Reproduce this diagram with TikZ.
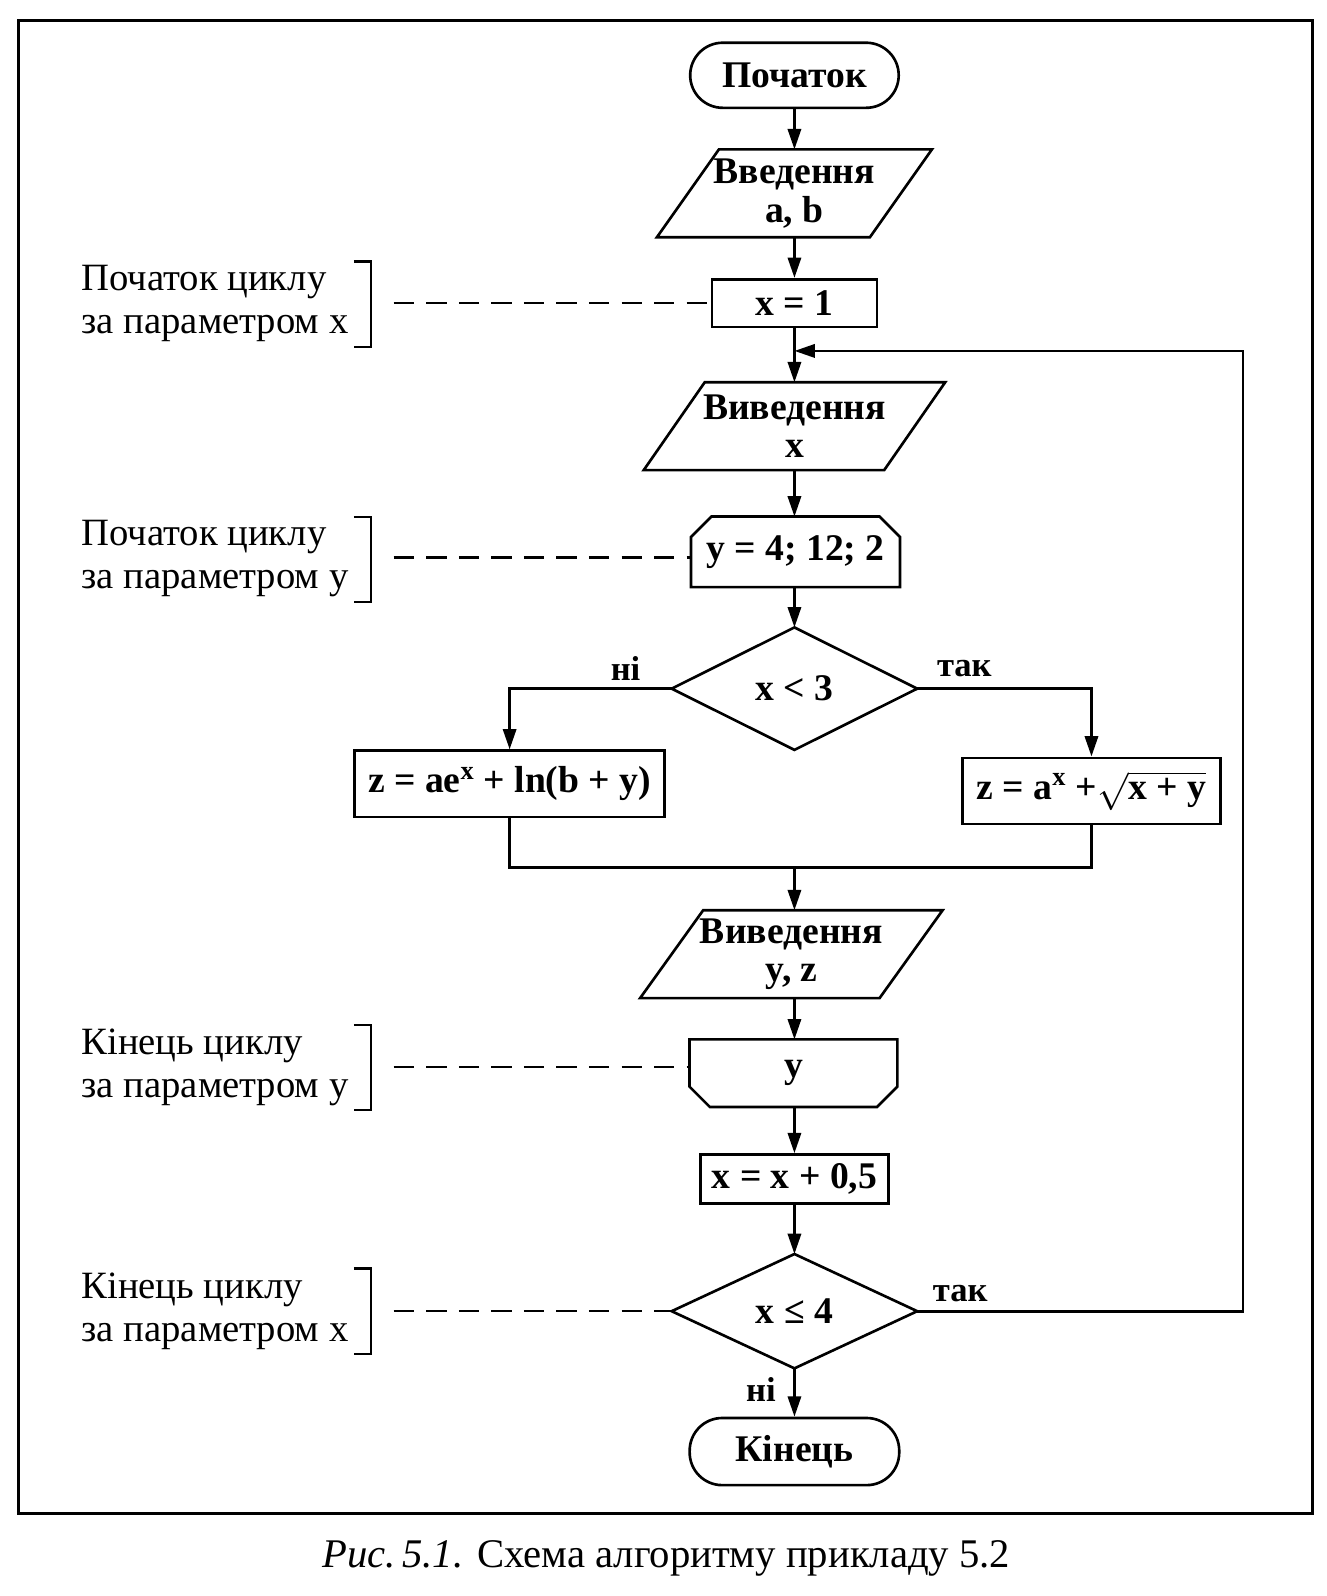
\RequirePackage{fix-cm}
\documentclass[tikz,border=0pt]{standalone}
\usepackage{exscale}
\usepackage{fontspec}
\setmainfont{Liberation Serif}
\usetikzlibrary{arrows.meta}
\begin{document}
\begin{tikzpicture}[x=1pt,y=-1pt,
  ln/.style={line width=2.6pt},
  arr/.style={ln,-{Triangle[length=20pt,width=13pt]}},
  dsh/.style={line width=2.2pt,dash pattern=on 20pt off 12pt},
  brk/.style={line width=2.2pt},
  txt/.style={font=\fontsize{37}{38}\selectfont\bfseries,align=center,inner sep=0pt},
  proc/.style={txt,draw,ln},
  term/.style={txt,draw,ln,rounded corners=32pt},
  ghost/.style={txt,draw=none},
  lab/.style={font=\fontsize{34}{38}\selectfont\bfseries,inner sep=0pt},
  note/.style={font=\fontsize{38}{42}\selectfont,align=left,inner sep=0pt,anchor=west}]
\useasboundingbox (0,0) rectangle (1304,1569);
\newcommand\parashape[2]{\draw[ln] ([xshift=-#2pt]#1.south west) -- ([xshift=#2pt]#1.north west) -- ([xshift=#2pt]#1.north east) -- ([xshift=-#2pt]#1.south east) -- cycle;}
\newcommand\diashape[1]{\draw[ln] (#1.north) -- (#1.east) -- (#1.south) -- (#1.west) -- cycle;}
% frame
\draw[ln] (18,20) rectangle (1290,1488);
% nodes
\node[term,minimum width=205pt,minimum height=64pt] (start) at (781,74) {Початок};
\node[ghost,minimum width=209pt,minimum height=86pt] (inab) at (781,190) {Введення\\a, b};
\parashape{inab}{30.5}
\node[proc,minimum width=162pt,minimum height=47pt] (x1) at (781,298) {x = 1};
\node[ghost,minimum width=236pt,minimum height=86pt] (outx) at (781,419) {Виведення\\x};
\parashape{outx}{30}
\node[ghost,minimum width=205pt,minimum height=69pt] (ly) at (782,542.5) {y = 4; 12; 2};
\draw[ln] (ly.south west) -- ([yshift=-20pt]ly.north west) -- ([xshift=20pt]ly.north west) -- ([xshift=-20pt]ly.north east) -- ([yshift=-20pt]ly.north east) -- (ly.south east) -- cycle;
\node[ghost,minimum width=241pt,minimum height=120pt] (d1) at (781,677) {x < 3};
\diashape{d1}
\node[proc,minimum width=305pt,minimum height=65pt] (z1) at (501,770.5) {z = ae\textsuperscript{x} + ln(b + y)};
\node[proc,minimum width=254pt,minimum height=65pt] (z2) at (1073,777.5) {z = a\textsuperscript{x} +$\sqrt{\mbox{x + y}}$};
\node[ghost,minimum width=235pt,minimum height=86pt] (outyz) at (778,938) {Виведення\\y, z};
\parashape{outyz}{31}
\node[ghost,minimum width=204pt,minimum height=66pt] (ely) at (780,1055) {y};
\draw[ln] (ely.north west) -- ([yshift=20pt]ely.south west) -- ([xshift=20pt]ely.south west) -- ([xshift=-20pt]ely.south east) -- ([yshift=20pt]ely.south east) -- (ely.north east) -- cycle;
\node[proc,minimum width=185pt,minimum height=48pt] (xinc) at (781,1159) {x = x + 0,5};
\node[ghost,minimum width=241pt,minimum height=112pt] (d2) at (781,1289) {x ≤ 4};
\diashape{d2}
\node[term,minimum width=206pt,minimum height=66pt] (fin) at (781,1427) {Кінець};
% labels
\node[lab] (l1) at (615,657) {ні};
\node[lab] (l2) at (948,657) {так};
\node[lab] (l3) at (944,1272) {так};
\node[lab] (l4) at (748,1366) {ні};
% connectors
\coordinate (m) at (781,853);
\coordinate (j) at (781,345);
\coordinate (r) at (1222,345);
\draw[arr] (start.south) -- (inab.north);
\draw[arr] (inab.south) -- (x1.north);
\draw[arr] (x1.south) -- (outx.north);
\draw[arr] (outx.south) -- (ly.north -| outx.south);
\draw[arr] (ly.south -| outx.south) -- (d1.north);
\draw[arr] (d1.west) -| (z1.north);
\draw[arr] (d1.east) -| (z2.north);
\draw[ln] (z1.south) |- (m) -| (z2.south);
\draw[arr] (m) -- (outyz.north -| m);
\draw[arr] (outyz.south -| m) -- (ely.north -| m);
\draw[arr] (ely.south -| m) -- (xinc.north);
\draw[arr] (xinc.south) -- (d2.north);
\draw[arr] (d2.south) -- (fin.north);
\draw[arr] (d2.east) -| (r) -- (j);
% annotations
\node[note] (n1) at (80,298) {Початок циклу\\за параметром x};
\node[note] (n2) at (80,549) {Початок циклу\\за параметром y};
\node[note] (n3) at (80,1049) {Кінець циклу\\за параметром y};
\node[note] (n4) at (80,1289) {Кінець циклу\\за параметром x};
\draw[brk] (348,257) -- (365,257) -- (365,341) -- (348,341);
\draw[brk] (348,508) -- (365,508) -- (365,592) -- (348,592);
\draw[brk] (348,1008) -- (365,1008) -- (365,1091) -- (348,1091);
\draw[brk] (348,1247) -- (365,1247) -- (365,1331) -- (348,1331);
\coordinate (a1) at (387,298);
\coordinate (a2) at (387,548);
\coordinate (a3) at (387,1049);
\coordinate (a4) at (387,1289);
\draw[dsh] (a1) -- (x1.west |- a1);
\draw[dsh] (a2) -- (ly.west |- a2);
\draw[dsh] (a3) -- (ely.west |- a3);
\draw[dsh] (a4) -- (d2.west);
% caption
\node[font=\fontsize{40}{44}\selectfont,inner sep=0pt] (cap) at (655,1532) {\textit{Рис.\,5.1.} Схема алгоритму прикладу 5.2};
\end{tikzpicture}
\end{document}
